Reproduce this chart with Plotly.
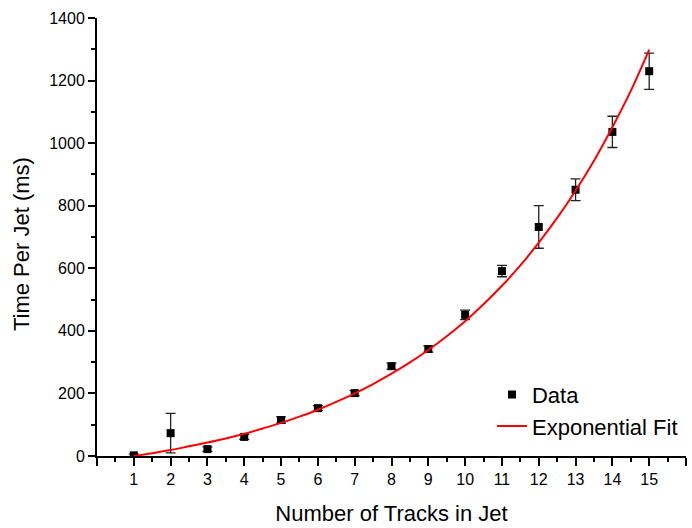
import plotly.graph_objects as go

# Data
tracks = [1, 2, 3, 4, 5, 6, 7, 8, 9, 10, 11, 12, 13, 14, 15]
time_ms = [2, 73, 22, 61, 115, 153, 201, 287, 342, 451, 591, 732, 851, 1036, 1230]
time_err = [4, 63, 7, 8, 10, 8, 8, 10, 10, 15, 18, 68, 35, 50, 58]

fit_x = [1, 1.5, 2, 2.5, 3, 3.5, 4, 4.5, 5, 5.5, 6, 6.5, 7, 7.5, 8, 8.5, 9, 9.5,
         10, 10.5, 11, 11.5, 12, 12.5, 13, 13.5, 14, 14.5, 15]
fit_y = [0, 9, 19, 31, 43, 56, 71, 88, 106, 126, 148, 173, 200, 230, 263, 299,
         339, 383, 431, 485, 544, 609, 682, 761, 848, 944, 1051, 1167, 1299]

x_ticks = list(range(0, 17))
x_labels = [str(v) if 1 <= v <= 15 else "" for v in x_ticks]

FONT = "Liberation Sans, Arial, sans-serif"

fig = go.Figure()
fig.add_trace(go.Scatter(
    x=tracks, y=time_ms, mode="markers", name="Data",
    marker=dict(symbol="square", size=8, color="black"),
    error_y=dict(type="data", array=time_err, visible=True,
                 color="#222222", thickness=1.3, width=5),
))
fig.add_trace(go.Scatter(
    x=fit_x, y=fit_y, mode="lines", name="Exponential Fit",
    line=dict(color="#ff0000", width=2, shape="spline"),
))

fig.update_layout(
    width=692, height=528,
    margin=dict(l=97, r=6, t=18, b=72, autoexpand=False),
    paper_bgcolor="white", plot_bgcolor="white",
    font=dict(family=FONT, color="black"),
    showlegend=True,
    legend=dict(x=0.6706, xanchor="left", y=0.188, yanchor="top",
                bgcolor="rgba(0,0,0,0)", font=dict(size=22, family=FONT),
                tracegroupgap=0, itemwidth=30),
    xaxis=dict(
        range=[0, 16], tickmode="array", tickvals=x_ticks, ticktext=x_labels,
        showgrid=False, zeroline=False, showline=True, linecolor="black",
        linewidth=2, ticks="outside", ticklen=8, tickwidth=1.5, tickcolor="black",
        minor=dict(dtick=0.5, tick0=0, ticks="outside", ticklen=4, tickwidth=1.5,
                   tickcolor="black", showgrid=False),
        tickfont=dict(size=16), automargin=False,
        title=dict(text="Number of Tracks in Jet", font=dict(size=22), standoff=18),
    ),
    yaxis=dict(
        range=[0, 1400], tickmode="linear", tick0=0, dtick=200,
        showgrid=False, zeroline=False, showline=True, linecolor="black",
        linewidth=2, ticks="outside", ticklen=7, tickwidth=1.5, tickcolor="black",
        minor=dict(dtick=100, ticks="outside", ticklen=4, tickwidth=1.5,
                   tickcolor="black", showgrid=False),
        tickfont=dict(size=16), automargin=False,
    ),
    annotations=[dict(text="Time Per Jet (ms)", xref="paper", yref="paper",
                      x=-0.1282, y=0.485, xanchor="center", yanchor="middle",
                      textangle=-90, showarrow=False, font=dict(size=22))],
)

fig.write_html("out.html", config={"displayModeBar": False},
               post_script="document.body.style.margin='0';")
